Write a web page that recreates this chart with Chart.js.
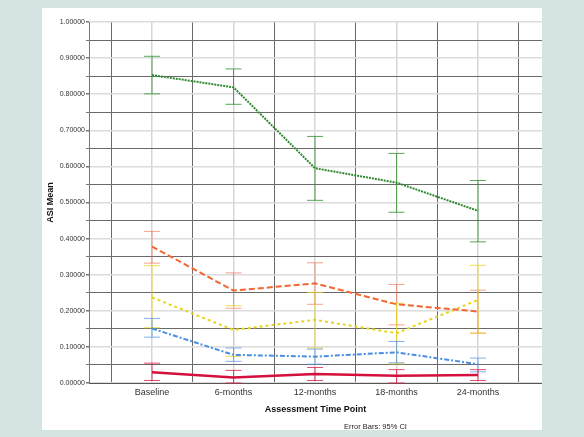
<!DOCTYPE html>
<html>
<head>
<meta charset="utf-8">
<script src="https://cdn.jsdelivr.net/npm/chart.js@4"></script>
<style>
  html, body { margin: 0; padding: 0; }
  body { width: 584px; height: 437px; background: #d5e3e3; position: relative; overflow: hidden; font-family: Arial, "Liberation Sans", sans-serif; }
  #panel { position: absolute; left: 42px; top: 8px; width: 500px; height: 422px; background: #fff; }
  #note { position: absolute; left: 344px; top: 422px; font-size: 7.5px; color: #222; white-space: nowrap; }
</style>
</head>
<body>
<div id="panel"><canvas id="asiChart" width="500" height="422"></canvas></div>
<div id="note">Error Bars: 95% CI</div>
<script>
// time points
const categories = ["Baseline", "6-months", "12-months", "18-months", "24-months"];

// group means
const greenMean = [0.853, 0.819, 0.595, 0.555, 0.477];
const orangeMean = [0.378, 0.256, 0.276, 0.218, 0.198];
const yellowMean = [0.237, 0.147, 0.175, 0.138, 0.230];
const blueMean = [0.151, 0.078, 0.073, 0.085, 0.052];
const redMean = [0.030, 0.015, 0.025, 0.020, 0.022];

// 95% CI bounds
const greenLow = [0.801, 0.772, 0.506, 0.473, 0.391];
const greenHigh = [0.905, 0.870, 0.683, 0.636, 0.561];
const orangeLow = [0.332, 0.207, 0.218, 0.161, 0.138];
const orangeHigh = [0.420, 0.305, 0.333, 0.273, 0.257];
const yellowLow = [0.153, 0.074, 0.097, 0.053, 0.138];
const yellowHigh = [0.325, 0.214, 0.251, 0.221, 0.326];
const blueLow = [0.127, 0.060, 0.052, 0.056, 0.031];
const blueHigh = [0.179, 0.097, 0.094, 0.115, 0.069];
const redLow = [0.007, 0.000, 0.007, 0.000, 0.007];
const redHigh = [0.055, 0.035, 0.043, 0.037, 0.037];

const yTicks = [0, 0.05, 0.1, 0.15, 0.2, 0.25, 0.3, 0.35, 0.4, 0.45, 0.5,
  0.55, 0.6, 0.65, 0.7, 0.75, 0.8, 0.85, 0.9, 0.95, 1.0];
const xTicks = [-0.5, 0, 0.5, 1, 1.5, 2, 2.5, 3, 3.5, 4, 4.5];

const toPoints = (arr) => arr.map((v, i) => ({ x: i, y: v }));

const series = [
  { mean: greenMean, low: greenLow, high: greenHigh, color: "#2f8a2f", bar: "rgba(60,150,60,0.85)", dash: [2, 1], width: 2 },
  { mean: orangeMean, low: orangeLow, high: orangeHigh, color: "#f26632", bar: "rgba(240,110,80,0.65)", dash: [6, 3], width: 2 },
  { mean: yellowMean, low: yellowLow, high: yellowHigh, color: "#e8d41c", bar: "rgba(232,212,40,0.8)", dash: [3, 3], width: 2 },
  { mean: blueMean, low: blueLow, high: blueHigh, color: "#4a8fe2", bar: "rgba(90,150,230,0.75)", dash: [5, 2, 2, 2], width: 2 },
  { mean: redMean, low: redLow, high: redHigh, color: "#d4103c", bar: "rgba(220,30,70,0.8)", dash: [], width: 2.5 },
];

// error bars drawn from the chart's scales
const errorBars = {
  id: "errorBars",
  beforeDatasetsDraw(chart) {
    const { ctx, scales } = chart;
    ctx.save();
    ctx.lineWidth = 1;
    series.forEach((s) => {
      ctx.strokeStyle = s.bar;
      s.mean.forEach((m, i) => {
        const x = scales.x.getPixelForValue(i);
        const yl = scales.y.getPixelForValue(s.low[i]);
        const yh = scales.y.getPixelForValue(s.high[i]);
        ctx.beginPath();
        ctx.moveTo(x, yl);
        ctx.lineTo(x, yh);
        ctx.moveTo(x - 8, yl);
        ctx.lineTo(x + 8, yl);
        ctx.moveTo(x - 8, yh);
        ctx.lineTo(x + 8, yh);
        ctx.stroke();
      });
    });
    ctx.restore();
  },
};

const isTenth = (v) => Math.round(v * 20) % 2 === 0;

const ctx = document.getElementById("asiChart").getContext("2d");

new Chart(ctx, {
  type: "line",
  data: {
    datasets: series.map((s) => ({
      data: toPoints(s.mean),
      borderColor: s.color,
      borderWidth: s.width,
      borderDash: s.dash,
      pointRadius: 0,
      fill: false,
      tension: 0,
    })),
  },
  options: {
    responsive: false,
    animation: false,
    layout: { padding: { top: 14, right: 0, left: 0, bottom: 0 } },
    plugins: {
      legend: { display: false },
      tooltip: { enabled: false },
      title: { display: false },
    },
    scales: {
      x: {
        type: "linear",
        min: -0.773,
        max: 4.785,
        afterBuildTicks: (scale) => {
          scale.ticks = xTicks.map((v) => ({ value: v }));
        },
        afterFit: (scale) => {
          scale.height = 47;
        },
        ticks: {
          autoSkip: false,
          maxRotation: 0,
          padding: 4,
          color: "#333",
          font: { family: "Arial", size: 9 },
          callback: (value) => (Number.isInteger(value) ? categories[value] : ""),
        },
        grid: {
          color: (c) => (c.tick && Number.isInteger(c.tick.value) ? "#d6d6d6" : "#6a6a6a"),
          lineWidth: (c) => (c.tick && Number.isInteger(c.tick.value) ? 1.5 : 1),
          tickLength: 0,
        },
        border: { color: "#555", width: 1 },
        title: {
          display: true,
          text: "Assessment Time Point",
          color: "#111",
          font: { family: "Arial", size: 9, weight: "bold" },
          padding: { top: 4, bottom: 15 },
        },
      },
      y: {
        type: "linear",
        min: 0,
        max: 1,
        afterBuildTicks: (scale) => {
          scale.ticks = yTicks.map((v) => ({ value: v }));
        },
        afterFit: (scale) => {
          scale.width = 47;
        },
        ticks: {
          autoSkip: false,
          padding: 1,
          color: "#333",
          font: { family: "Arial", size: 7 },
          callback: (value) => (isTenth(value) ? value.toFixed(5) : ""),
        },
        grid: {
          color: (c) => (c.tick && isTenth(c.tick.value) ? "#dcdcdc" : "#6a6a6a"),
          lineWidth: (c) => (c.tick && isTenth(c.tick.value) ? 1.5 : 1),
          tickLength: 3,
          tickColor: "#777",
        },
        border: { color: "#777", width: 1 },
        title: {
          display: true,
          text: "ASI Mean",
          color: "#111",
          font: { family: "Arial", size: 9, weight: "bold" },
          padding: { top: 3, bottom: 0 },
        },
      },
    },
  },
  plugins: [errorBars],
});
</script>
</body>
</html>
